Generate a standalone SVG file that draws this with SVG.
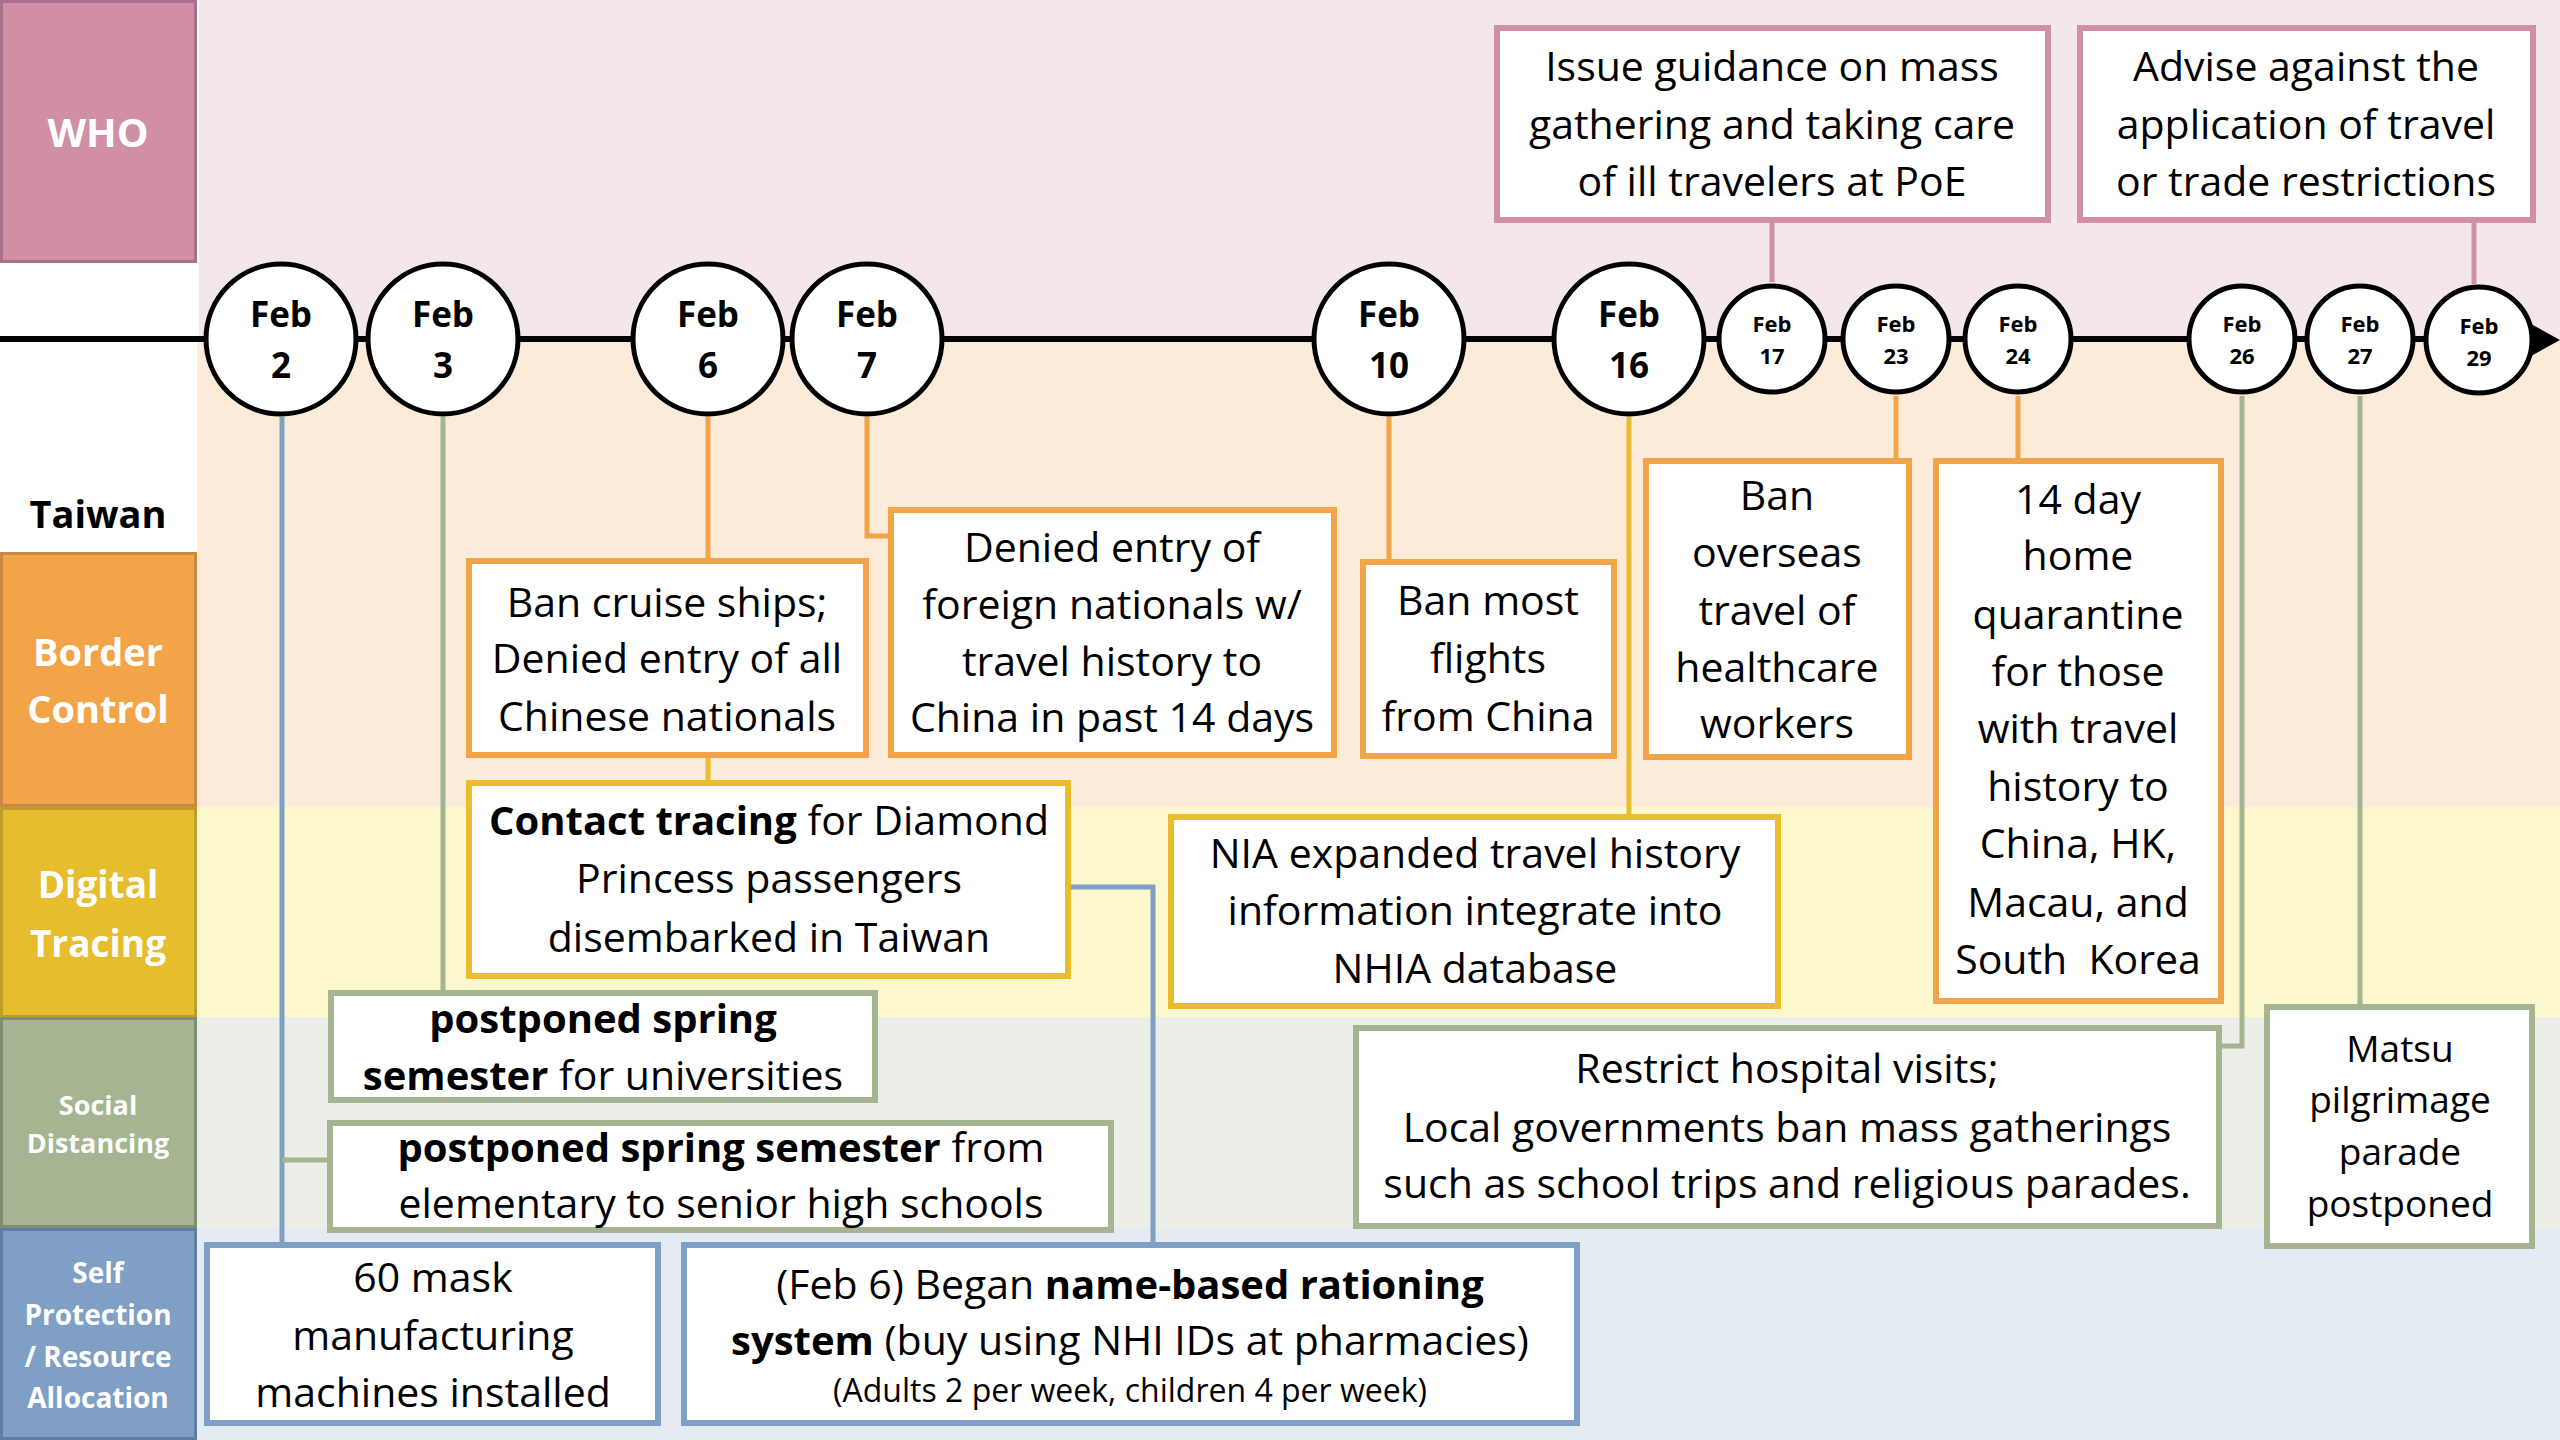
<svg xmlns="http://www.w3.org/2000/svg" width="2560" height="1440" viewBox="0 0 2560 1440">
<style>
text{font-family:"Open Sans","Noto Sans","Liberation Sans",sans-serif;text-anchor:middle;fill:#000}
.lab{font-weight:bold;fill:#fff}
.body{font-size:41px}
.b{font-weight:bold;font-size:40px}
.date{font-weight:bold;font-size:35px}
.sdate{font-weight:bold;font-size:22px}
.circ{fill:#fff;stroke:#000;stroke-width:5}
.box{fill:#fff;stroke-width:6}
.who{stroke:#d08fa5}
.bor{stroke:#f3a449}
.dig{stroke:#e8bd2e}
.soc{stroke:#a5b491}
.sel{stroke:#7f9fc4}
.con{fill:none;stroke-width:5}
</style>
<g id="backgrounds">
<rect x="0" y="0" width="2560" height="1440" fill="#fff"/>
<rect x="199" y="0" width="2361" height="343" fill="#f4e7ec"/>
<rect x="197" y="343" width="2363" height="464" fill="#fdebd9"/>
<rect x="197" y="807" width="2363" height="210" fill="#fdf8cb"/>
<rect x="197" y="1017" width="2363" height="211" fill="#ecefe8"/>
<rect x="197" y="1228" width="2363" height="212" fill="#e4ebf3"/>
</g>
<g id="lane-labels">
<g id="label-who"><rect x="1.5" y="1.5" width="194" height="260" fill="#d08fa5" stroke="#a8708a" stroke-width="3"/><text class="lab" x="98" y="147" font-size="40">WHO</text></g>
<g id="label-taiwan"><text x="98" y="528" font-size="38" font-weight="bold">Taiwan</text></g>
<g id="label-border"><rect x="1.5" y="553.5" width="194" height="252" fill="#f3a449" stroke="#c88a40" stroke-width="3"/><text class="lab" x="98" y="666" font-size="38">Border</text><text class="lab" x="98" y="723" font-size="38">Control</text></g>
<g id="label-digital"><rect x="1.5" y="808.5" width="194" height="208" fill="#e5bd2d" stroke="#c09d2a" stroke-width="3"/><text class="lab" x="98" y="898" font-size="37">Digital</text><text class="lab" x="98" y="957" font-size="37">Tracing</text></g>
<g id="label-social"><rect x="1.5" y="1018.5" width="194" height="208" fill="#a5b491" stroke="#7f8e70" stroke-width="3"/><text class="lab" x="98" y="1115" font-size="27">Social</text><text class="lab" x="98" y="1153" font-size="27">Distancing</text></g>
<g id="label-self"><rect x="1.5" y="1229.5" width="194" height="209" fill="#7f9fc4" stroke="#5f7ea3" stroke-width="3"/><text class="lab" x="98" y="1283" font-size="28">Self</text><text class="lab" x="98" y="1325" font-size="28">Protection</text><text class="lab" x="98" y="1367" font-size="28">/ Resource</text><text class="lab" x="98" y="1408" font-size="28">Allocation</text></g>
</g>
<g id="timeline">
<line x1="0" y1="339" x2="2536" y2="339" stroke="#000" stroke-width="6"/>
<polygon points="2531,324 2560,340 2531,356" fill="#000"/>
</g>
<g id="connectors">
<path class="con" stroke="#7f9fc4" d="M282 417V1242"/>
<path class="con" stroke="#a5b491" d="M282 1160H328"/>
<path class="con" stroke="#a5b491" d="M443 417V990"/>
<path class="con" stroke="#f3a449" d="M708 417V558"/>
<path class="con" stroke="#e8bd2e" d="M708 758V780"/>
<path class="con" stroke="#7f9fc4" d="M1071 887H1153V1242"/>
<path class="con" stroke="#f3a449" d="M867 417V536H888"/>
<path class="con" stroke="#f3a449" d="M1389 417V559"/>
<path class="con" stroke="#e8bd2e" d="M1629 417V814"/>
<path class="con" stroke="#d08fa5" d="M1772 223V282"/>
<path class="con" stroke="#f3a449" d="M1896 396V458"/>
<path class="con" stroke="#f3a449" d="M2018 396V458"/>
<path class="con" stroke="#a5b491" d="M2242 396V1046H2222"/>
<path class="con" stroke="#a5b491" d="M2360 396V1004"/>
<path class="con" stroke="#d08fa5" d="M2474 223V284"/>
</g>
<g id="dates">
<g id="feb2"><circle class="circ" cx="281" cy="339" r="75"/><text class="date" x="281" y="327">Feb</text><text class="date" x="281" y="378">2</text></g>
<g id="feb3"><circle class="circ" cx="443" cy="339" r="75"/><text class="date" x="443" y="327">Feb</text><text class="date" x="443" y="378">3</text></g>
<g id="feb6"><circle class="circ" cx="708" cy="339" r="75"/><text class="date" x="708" y="327">Feb</text><text class="date" x="708" y="378">6</text></g>
<g id="feb7"><circle class="circ" cx="867" cy="339" r="75"/><text class="date" x="867" y="327">Feb</text><text class="date" x="867" y="378">7</text></g>
<g id="feb10"><circle class="circ" cx="1389" cy="339" r="75"/><text class="date" x="1389" y="327">Feb</text><text class="date" x="1389" y="378">10</text></g>
<g id="feb16"><circle class="circ" cx="1629" cy="339" r="75"/><text class="date" x="1629" y="327">Feb</text><text class="date" x="1629" y="378">16</text></g>
<g id="feb17"><circle class="circ" cx="1772" cy="339" r="53"/><text class="sdate" x="1772" y="332">Feb</text><text class="sdate" x="1772" y="364">17</text></g>
<g id="feb23"><circle class="circ" cx="1896" cy="339" r="53"/><text class="sdate" x="1896" y="332">Feb</text><text class="sdate" x="1896" y="364">23</text></g>
<g id="feb24"><circle class="circ" cx="2018" cy="339" r="53"/><text class="sdate" x="2018" y="332">Feb</text><text class="sdate" x="2018" y="364">24</text></g>
<g id="feb26"><circle class="circ" cx="2242" cy="339" r="53"/><text class="sdate" x="2242" y="332">Feb</text><text class="sdate" x="2242" y="364">26</text></g>
<g id="feb27"><circle class="circ" cx="2360" cy="339" r="53"/><text class="sdate" x="2360" y="332">Feb</text><text class="sdate" x="2360" y="364">27</text></g>
<g id="feb29"><circle class="circ" cx="2479" cy="340" r="53"/><text class="sdate" x="2479" y="334">Feb</text><text class="sdate" x="2479" y="366">29</text></g>
</g>
<g id="who-1"><rect class="box who" x="1497" y="28" width="551" height="192"/>
<text class="body" x="1772" y="81">Issue guidance on mass</text><text class="body" x="1772" y="139">gathering and taking care</text><text class="body" x="1772" y="196">of ill travelers at PoE</text></g>
<g id="who-2"><rect class="box who" x="2080" y="28" width="453" height="192"/>
<text class="body" x="2306" y="81">Advise against the</text><text class="body" x="2306" y="139">application of travel</text><text class="body" x="2306" y="196">or trade restrictions</text></g>
<g id="border-1"><rect class="box bor" x="469" y="561" width="397" height="194"/>
<text class="body" x="667" y="617">Ban cruise ships;</text><text class="body" x="667" y="673">Denied entry of all</text><text class="body" x="667" y="731">Chinese nationals</text></g>
<g id="border-2"><rect class="box bor" x="891" y="510" width="443" height="245"/>
<text class="body" x="1112" y="562">Denied entry of</text><text class="body" x="1112" y="619">foreign nationals w/</text><text class="body" x="1112" y="676">travel history to</text><text class="body" x="1112" y="732">China in past 14 days</text></g>
<g id="border-3"><rect class="box bor" x="1363" y="562" width="251" height="194"/>
<text class="body" x="1488" y="615">Ban most</text><text class="body" x="1488" y="673">flights</text><text class="body" x="1488" y="731">from China</text></g>
<g id="border-4"><rect class="box bor" x="1646" y="461" width="263" height="296"/>
<text class="body" x="1777" y="510">Ban</text><text class="body" x="1777" y="567">overseas</text><text class="body" x="1777" y="625">travel of</text><text class="body" x="1777" y="682">healthcare</text><text class="body" x="1777" y="738">workers</text></g>
<g id="border-5"><rect class="box bor" x="1936" y="461" width="285" height="540"/>
<text class="body" x="2078" y="514">14 day</text><text class="body" x="2078" y="570">home</text><text class="body" x="2078" y="629">quarantine</text><text class="body" x="2078" y="686">for those</text><text class="body" x="2078" y="743">with travel</text><text class="body" x="2078" y="801">history to</text><text class="body" x="2078" y="858">China, HK,</text><text class="body" x="2078" y="917">Macau, and</text><text class="body" x="2078" y="974" xml:space="preserve">South  Korea</text></g>
<g id="digital-1"><rect class="box dig" x="469" y="783" width="599" height="193"/>
<text class="body" x="769" y="835"><tspan class="b">Contact tracing</tspan> for Diamond</text><text class="body" x="769" y="893">Princess passengers</text><text class="body" x="769" y="952">disembarked in Taiwan</text></g>
<g id="digital-2"><rect class="box dig" x="1171" y="817" width="607" height="189"/>
<text class="body" x="1475" y="868">NIA expanded travel history</text><text class="body" x="1475" y="925">information integrate into</text><text class="body" x="1475" y="983">NHIA database</text></g>
<g id="social-1"><rect class="box soc" x="331" y="993" width="544" height="107"/>
<text class="body" x="603" y="1033"><tspan class="b">postponed spring</tspan></text><text class="body" x="603" y="1090"><tspan class="b">semester</tspan> for universities</text></g>
<g id="social-2"><rect class="box soc" x="330" y="1123" width="781" height="107"/>
<text class="body" x="721" y="1162"><tspan class="b">postponed spring semester</tspan> from</text><text class="body" x="721" y="1218">elementary to senior high schools</text></g>
<g id="social-3"><rect class="box soc" x="1356" y="1028" width="863" height="198"/>
<text class="body" x="1787" y="1083">Restrict hospital visits;</text><text class="body" x="1787" y="1142">Local governments ban mass gatherings</text><text class="body" x="1787" y="1198">such as school trips and religious parades.</text></g>
<g id="social-4"><rect class="box soc" x="2267" y="1007" width="265" height="239"/>
<text x="2400" y="1062" font-size="37">Matsu</text><text x="2400" y="1113" font-size="37">pilgrimage</text><text x="2400" y="1165" font-size="37">parade</text><text x="2400" y="1217" font-size="37">postponed</text></g>
<g id="self-1"><rect class="box sel" x="207" y="1245" width="451" height="178"/>
<text class="body" x="433" y="1292">60 mask</text><text class="body" x="433" y="1350">manufacturing</text><text class="body" x="433" y="1407">machines installed</text></g>
<g id="self-2"><rect class="box sel" x="684" y="1245" width="893" height="178"/>
<text class="body" x="1130" y="1299">(Feb 6) Began <tspan class="b">name-based rationing</tspan></text><text class="body" x="1130" y="1355"><tspan class="b">system</tspan> (buy using NHI IDs at pharmacies)</text><text x="1130" y="1402" font-size="32">(Adults 2 per week, children 4 per week)</text></g>
</svg>
